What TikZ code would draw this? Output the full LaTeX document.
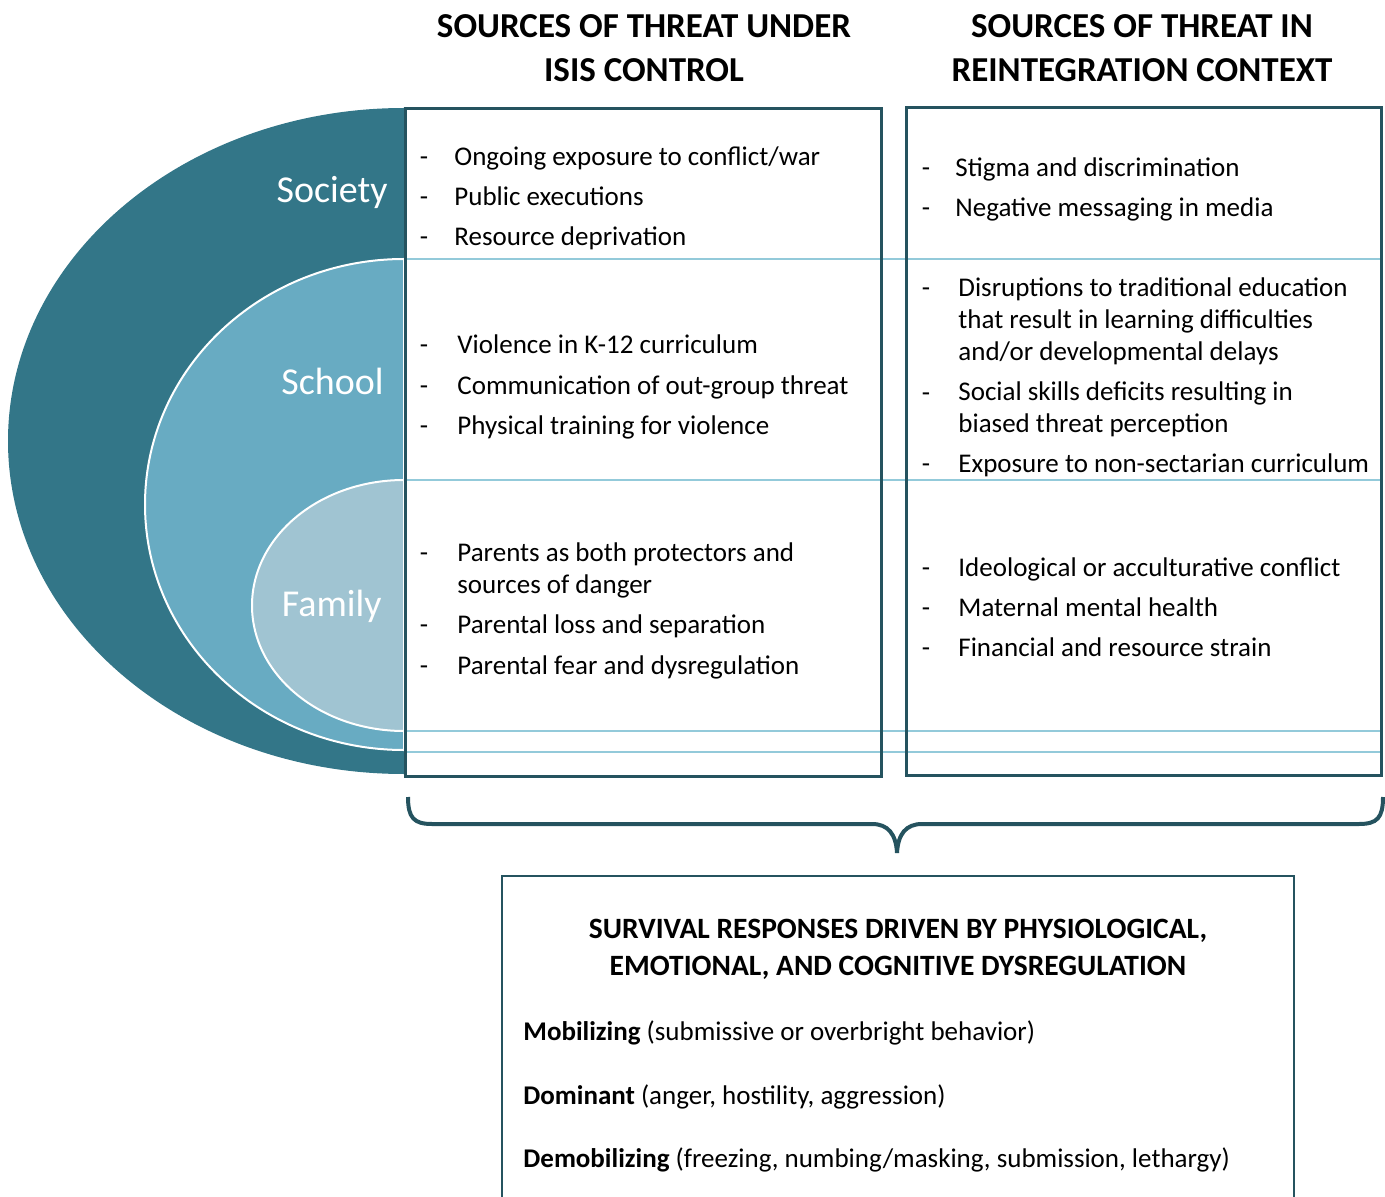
\documentclass[tikz,border=0pt]{standalone}
\usepackage{fontspec}
\setmainfont{Carlito}
\definecolor{soccol}{HTML}{337688}
\definecolor{schcol}{HTML}{68ABC2}
\definecolor{famcol}{HTML}{A0C4D2}
\definecolor{framecol}{HTML}{25535F}
\definecolor{bandcol}{HTML}{93CADA}
\tikzset{
  hdr/.style={font=\fontsize{17.5}{22}\selectfont\bfseries, align=center, anchor=base, inner sep=0pt},
  lvl/.style={font=\fontsize{19}{22}\selectfont, text=white, anchor=base east, inner sep=0pt},
  item/.style={font=\fontsize{13.5}{16}\selectfont, align=left, anchor=base west, inner sep=0pt},
  itemdash/.style={font=\fontsize{13.5}{16}\selectfont, anchor=base, inner sep=0pt},
  ring/.style={draw=white, line width=1pt},
  frame/.style={draw=framecol, line width=1.5pt},
  band/.style={draw=bandcol, line width=1.2pt},
  brace/.style={draw=framecol, line width=2pt},
  btitle/.style={font=\fontsize{14.75}{18.5}\selectfont\bfseries, align=center, anchor=base, inner sep=0pt}
}
\begin{document}
\begin{tikzpicture}[x=0.5pt, y=-0.5pt]
\useasboundingbox (0,0) rectangle (1385,1197);

% levels
\fill[soccol] (404,108) arc[start angle=-90, end angle=-270, x radius=396, y radius=333] -- cycle;
\filldraw[fill=schcol, ring] (404,259) arc[start angle=-90, end angle=-270, x radius=259, y radius=245.5] -- cycle;
\filldraw[fill=famcol, ring] (404,480) arc[start angle=-90, end angle=-270, x radius=152, y radius=125.5] -- cycle;
\node[lvl] (society) at (388,203) {Society};
\node[lvl] (school) at (384,395) {School};
\node[lvl] (family) at (382,616) {Family};

% rows and columns
\foreach \y in {259,480,731,752}
    \draw[band] (405,\y) -- (1381,\y);
\draw[frame] (405,109) rectangle (881,776);
\draw[frame] (906,108) rectangle (1381,775);

\node[hdr] (isis-hd) at (644,82) {SOURCES OF THREAT UNDER\\ISIS CONTROL};
\node[hdr] (reint-hd) at (1142,82) {SOURCES OF THREAT IN\\REINTEGRATION CONTEXT};

% under isis (y = baseline of the last line)
\foreach \n/\x/\d/\y/\t in {s1/454/166/166/{Ongoing exposure to conflict/war},
                            s2/454/206/206/{Public executions},
                            s3/454/246/246/{Resource deprivation},
                            c1/457/354/354/{Violence in K-12 curriculum},
                            c2/457/395/395/{Communication of out-group threat},
                            c3/457/435/435/{Physical training for violence},
                            f1/457/561/593/{Parents as both protectors and\\sources of danger},
                            f2/457/633/633/{Parental loss and separation},
                            f3/457/674/674/{Parental fear and dysregulation}} {
    \node[itemdash] at (424,\d) {-};
    \node[item] (isis-\n) at (\x,\y) {\t};
}

% reintegration
\foreach \n/\x/\d/\y/\t in {s1/955/177/177/{Stigma and discrimination},
                            s2/955/217/217/{Negative messaging in media},
                            c1/958/297/361/{Disruptions to traditional education\\that result in learning difficulties\\and/or developmental delays},
                            c2/958/402/433/{Social skills deficits resulting in\\biased threat perception},
                            c3/958/473/473/{Exposure to non-sectarian curriculum},
                            f1/958/576/576/{Ideological or acculturative conflict},
                            f2/958/616/616/{Maternal mental health},
                            f3/958/656/656/{Financial and resource strain}} {
    \node[itemdash] at (926,\d) {-};
    \node[item] (reint-\n) at (\x,\y) {\t};
}

% brace
\coordinate (br-l) at (408,797);
\coordinate (br-r) at (1383,797);
\coordinate (br-tip) at (897,853);
\draw[brace] (br-l) .. controls (408,818) and (414,824) .. (432,824) -- (872,824)
    .. controls (888,824) and (896,834) .. (br-tip);
\draw[brace] (br-r) .. controls (1383,818) and (1377,824) .. (1359,824) -- (922,824)
    .. controls (906,824) and (898,834) .. (br-tip);

% responses
\draw[framecol, line width=0.8pt] (502,1197) -- (502,876) -- (1294,876) -- (1294,1197);
\node[btitle] (resp-hd) at (898,975) {SURVIVAL RESPONSES DRIVEN BY PHYSIOLOGICAL,\\EMOTIONAL, AND COGNITIVE DYSREGULATION};
\node[item] (mob) at (523,1040) {\textbf{Mobilizing} (submissive or overbright behavior)};
\node[item] (dom) at (523,1104) {\textbf{Dominant} (anger, hostility, aggression)};
\node[item] (demob) at (523,1167) {\textbf{Demobilizing} (freezing, numbing/masking, submission, lethargy)};
\end{tikzpicture}
\end{document}
